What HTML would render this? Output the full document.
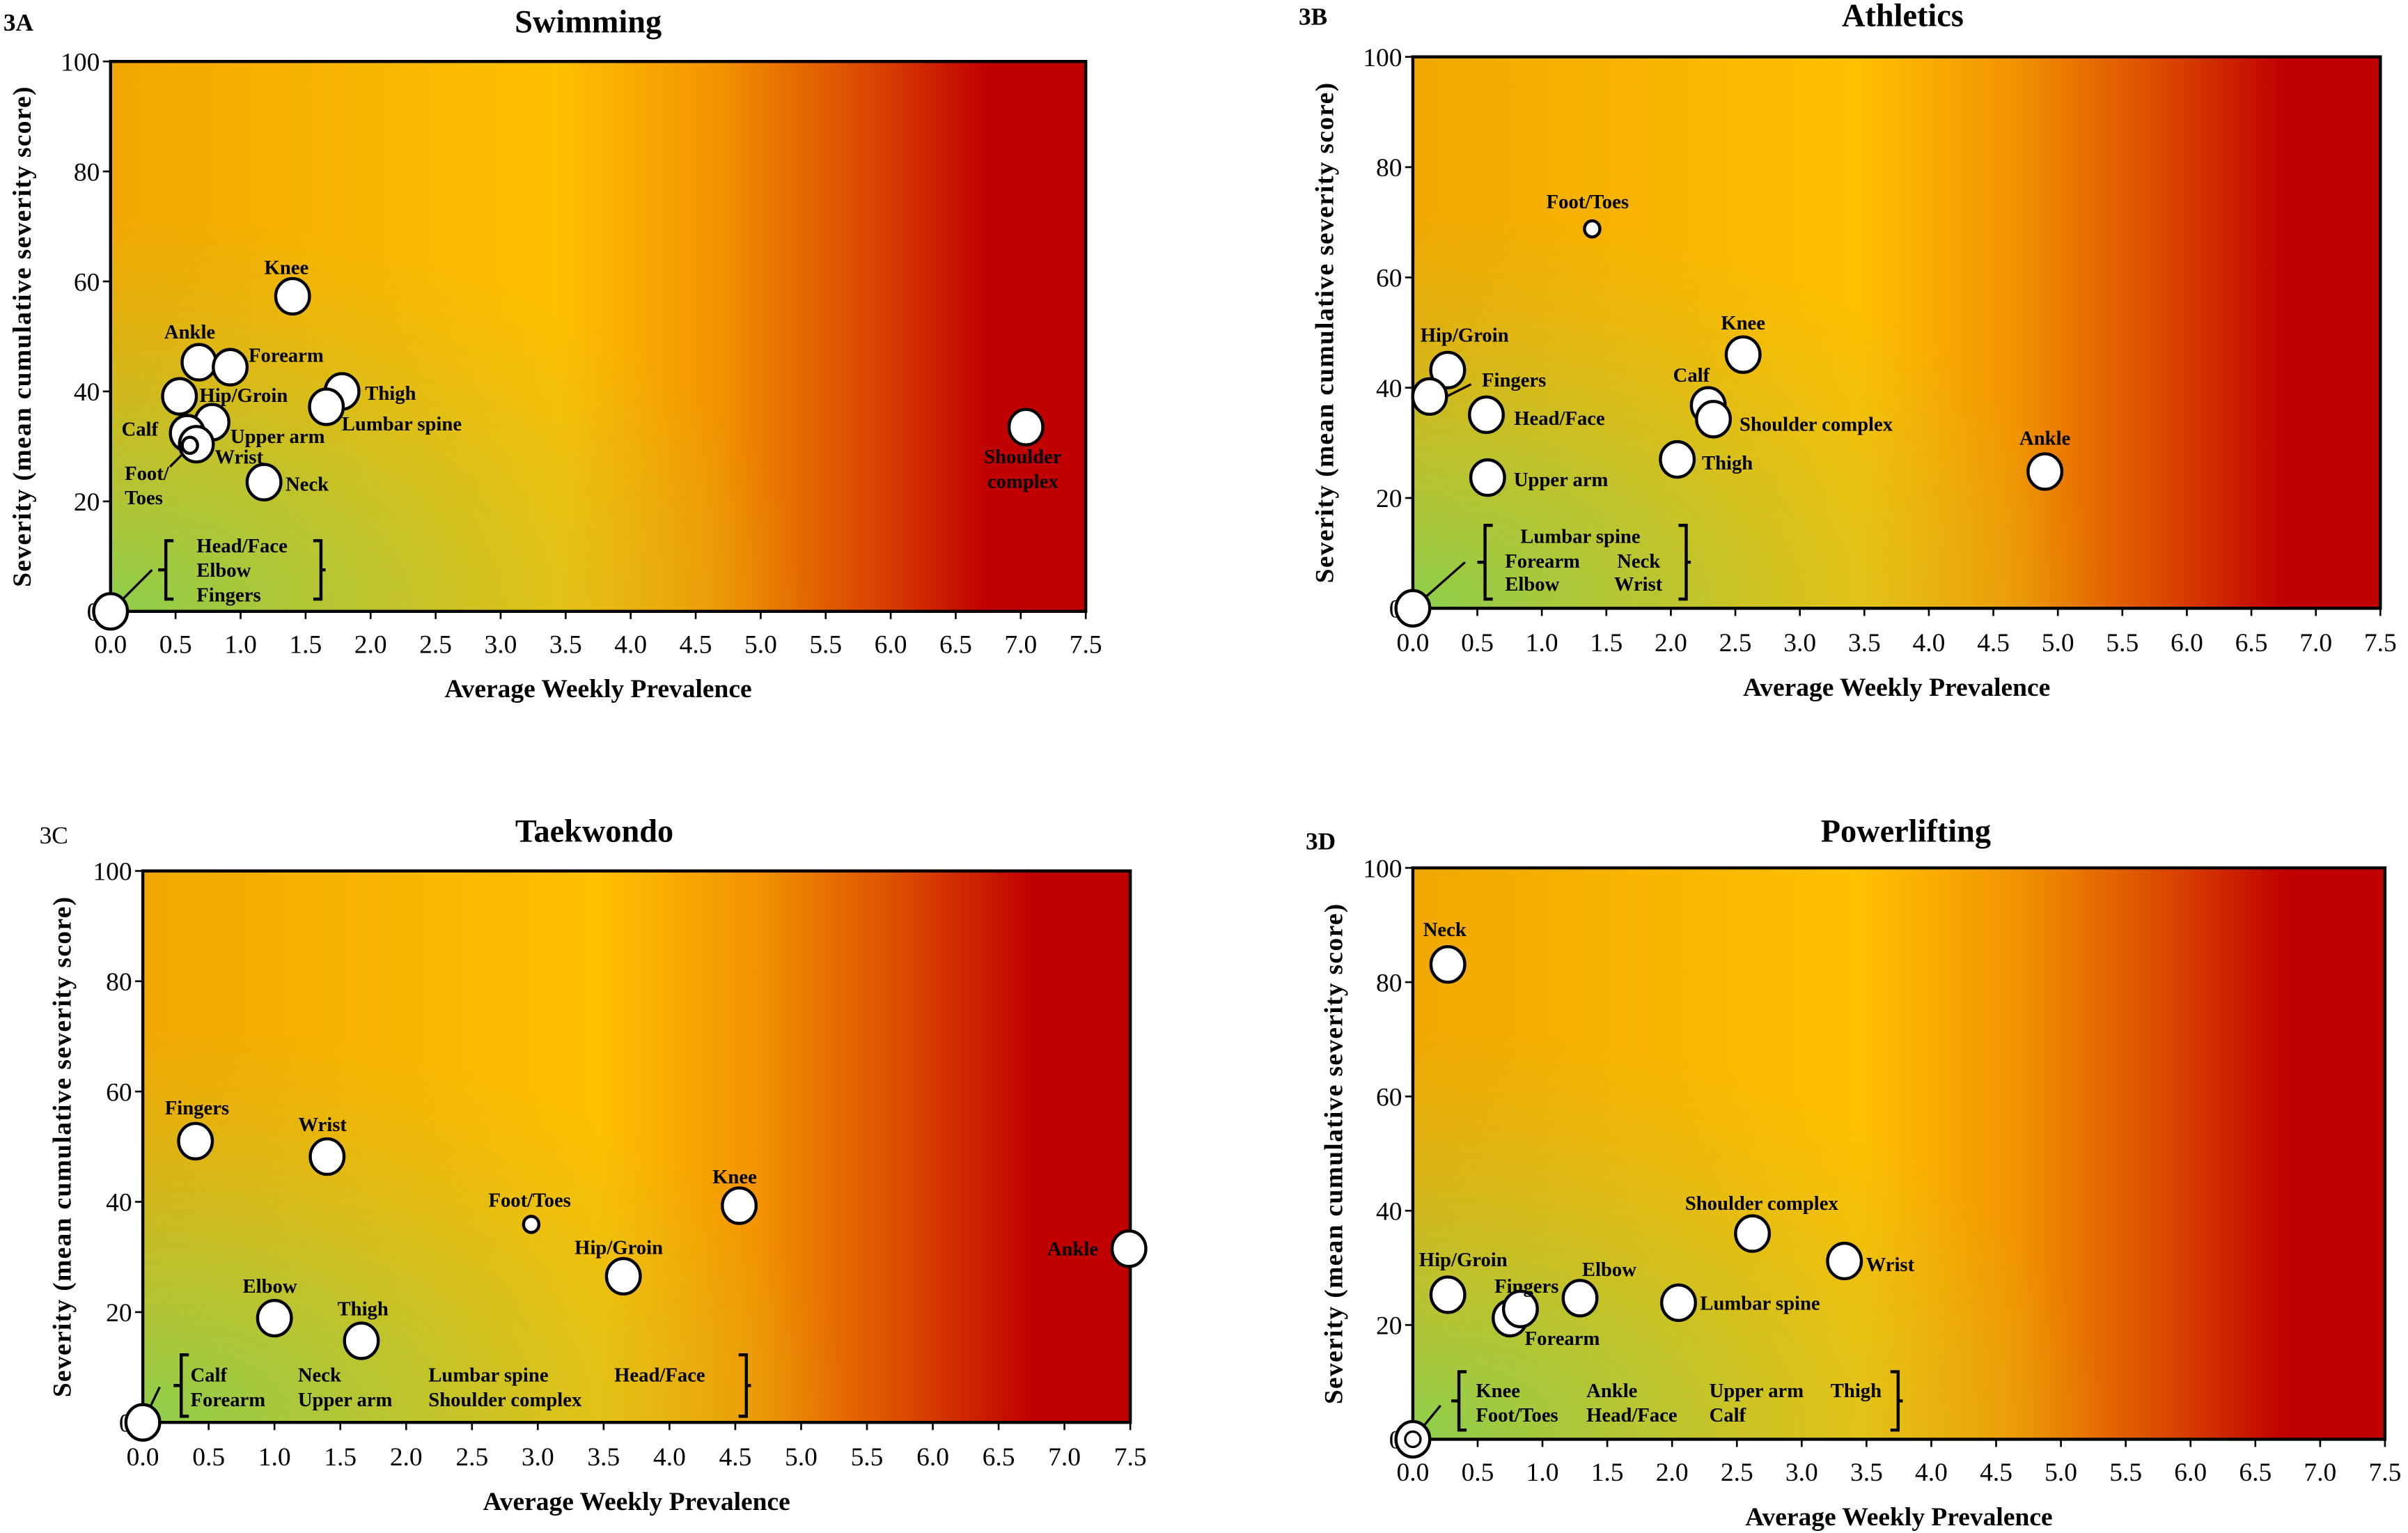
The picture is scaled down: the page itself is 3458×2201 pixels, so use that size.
<!DOCTYPE html>
<html><head><meta charset="utf-8"><style>
html,body{margin:0;padding:0;background:#fff}
svg{display:block}
svg text{font-family:"Liberation Serif","Times New Roman",serif;fill:#000}
</style></head><body>
<svg id="chart" width="3458" height="2201" viewBox="0 0 1568 998" font-family="Liberation Serif, serif" xmlns="http://www.w3.org/2000/svg">
<defs>
<linearGradient id="hgrad" x1="0" y1="0" x2="1" y2="0">
<stop offset="0" stop-color="#f0a800"/>
<stop offset="0.46" stop-color="#ffc000"/>
<stop offset="0.62" stop-color="#f29400"/>
<stop offset="0.78" stop-color="#da4600"/>
<stop offset="0.9" stop-color="#c00000"/>
<stop offset="1" stop-color="#c00000"/>
</linearGradient>
<radialGradient id="ggrad" cx="0" cy="1" r="0.72" fx="0" fy="1">
<stop offset="0" stop-color="#8ccf4d" stop-opacity="1"/>
<stop offset="0.4" stop-color="#a8cb3e" stop-opacity="0.7"/>
<stop offset="1" stop-color="#d0bf28" stop-opacity="0"/>
</radialGradient>
</defs>
</svg>
<script>
// ---------- DATA ----------
const swimNames = ["Zero","Knee","Ankle","Forearm","Hip/Groin","Thigh","Lumbar spine","Upper arm","Calf","Wrist","Foot/Toes","Neck","Shoulder complex"];
const swimX = [0,1.40,0.68,0.92,0.53,1.78,1.66,0.78,0.59,0.66,0.61,1.18,7.04];
const swimY = [0,57.3,45.3,44.4,39.1,40.0,37.2,34.4,32.4,30.4,30.2,23.5,33.5];
const swimSize = ["L","L","L","L","L","L","L","L","L","L","S","L","L"];

const athNames = ["Zero","Foot/Toes","Hip/Groin","Fingers","Head/Face","Upper arm","Knee","Calf","Shoulder complex","Thigh","Ankle"];
const athX = [0,1.39,0.27,0.13,0.57,0.58,2.56,2.29,2.33,2.05,4.90];
const athY = [0,68.8,43.2,38.4,35.1,23.7,46.0,36.8,34.3,27.0,24.8];
const athSize = ["L","S","L","L","L","L","L","L","L","L","L"];

const tkdNames = ["Zero","Fingers","Wrist","Elbow","Thigh","Foot/Toes","Hip/Groin","Knee","Ankle"];
const tkdX = [0,0.40,1.40,1.00,1.66,2.95,3.65,4.53,7.49];
const tkdY = [0,51.0,48.2,18.9,14.8,35.9,26.5,39.3,31.5];
const tkdSize = ["L","L","L","L","L","S","L","L","L"];

const plNames = ["Zero","Neck","Hip/Groin","Forearm","Fingers","Elbow","Lumbar spine","Shoulder complex","Wrist"];
const plX = [0,0.27,0.27,0.75,0.83,1.29,2.05,2.62,3.33];
const plY = [0,83.1,25.3,21.2,22.8,24.7,23.9,36.0,31.2];
const plSize = ["L","L","L","L","L","L","L","L","L"];

const xTickLabels = ["0.0","0.5","1.0","1.5","2.0","2.5","3.0","3.5","4.0","4.5","5.0","5.5","6.0","6.5","7.0","7.5"];
const yTickLabels = ["0","20","40","60","80","100"];

// ---------- LAYOUT ----------
const panels = [
 {key:"swimming", tag:"3A", title:"Swimming", L:72,R:707,T:40,B:398, tagPos:[12,14], titlePos:[383,14], xTitleY:448, yTitleX:14, xLabY:419,
  names:swimNames, xs:swimX, ys:swimY, sizes:swimSize,
  labels:[[1,"Knee",-4,-19,"middle"],[2,"Ankle",-6,-20,"middle"],[3,"Forearm",12,-8,"start"],[4,"Hip/Groin",13,-1,"start"],[5,"Thigh",15,1,"start"],
          [6,"Lumbar spine",10,11,"start"],[7,"Upper arm",12,9,"start"],[8,"Calf",-19,-3,"end"],[9,"Wrist",12,8,"start"],[10,"Foot/",-28,18,"middle"],[10,"Toes",-30,34,"middle"],
          [11,"Neck",14,1,"start"],[12,"Shoulder",-2,19,"middle"],[12,"complex",-2,35,"middle"]],
  leaders:[[10,-2,3,-13,14]],
  zeroLeader:[27,-27], bracket:{x1:108,x2:209,top:352,bot:390,
   items:[["Head/Face",128,355],["Elbow",128,371],["Fingers",128,387]]}},
 {key:"athletics", tag:"3B", title:"Athletics", L:920,R:1550,T:37,B:396, tagPos:[855,10], titlePos:[1239,10], xTitleY:447, yTitleX:862, xLabY:418,
  names:athNames, xs:athX, ys:athY, sizes:athSize,
  labels:[[1,"Foot/Toes",-3,-18,"middle"],[2,"Hip/Groin",11,-23,"middle"],[3,"Fingers",34,-11,"start"],[4,"Head/Face",18,2,"start"],[5,"Upper arm",17,1,"start"],
          [6,"Knee",0,-21,"middle"],[7,"Calf",-11,-20,"middle"],[8,"Shoulder complex",17,3,"start"],[9,"Thigh",16,2,"start"],[10,"Ankle",0,-22,"middle"]],
  leaders:[[3,5,3,27,-8]],
  zeroLeader:[34,-30], bracket:{x1:967,x2:1098,top:342,bot:390,
   items:[["Lumbar spine",990,349],["Forearm",980,365],["Neck",1053,365],["Elbow",980,380],["Wrist",1051,380]]}},
 {key:"taekwondo", tag:"3C", title:"Taekwondo", L:93,R:736,T:567,B:926, tagPos:[35,543], titlePos:[387,541], xTitleY:977, yTitleX:40, xLabY:948, tagNormal:true,
  names:tkdNames, xs:tkdX, ys:tkdY, sizes:tkdSize,
  labels:[[1,"Fingers",1,-22,"middle"],[2,"Wrist",-3,-21,"middle"],[3,"Elbow",-3,-21,"middle"],[4,"Thigh",1,-21,"middle"],[5,"Foot/Toes",-1,-16,"middle"],
          [6,"Hip/Groin",-3,-19,"middle"],[7,"Knee",-3,-19,"middle"],[8,"Ankle",-20,0,"end"]],
  leaders:[],
  zeroLeader:[11,-23], bracket:{x1:118,x2:486,top:882,bot:922,
   items:[["Calf",124,895],["Forearm",124,911],["Neck",194,895],["Upper arm",194,911],["Lumbar spine",279,895],["Shoulder complex",279,911],["Head/Face",400,895]]}},
 {key:"powerlifting", tag:"3D", title:"Powerlifting", L:920,R:1553,T:565,B:937, tagPos:[860,547], titlePos:[1241,541], xTitleY:987, yTitleX:868, xLabY:958,
  names:plNames, xs:plX, ys:plY, sizes:plSize, zeroInner:true,
  labels:[[1,"Neck",-2,-23,"middle"],[2,"Hip/Groin",10,-23,"middle"],[3,"Forearm",34,13,"middle"],[4,"Fingers",4,-15,"middle"],[5,"Elbow",19,-19,"middle"],
          [6,"Lumbar spine",14,0,"start"],[7,"Shoulder complex",6,-20,"middle"],[8,"Wrist",14,2,"start"]],
  leaders:[],
  zeroLeader:[18,-22], bracket:{x1:950,x2:1236,top:893,bot:931,
   items:[["Knee",961,905],["Foot/Toes",961,921],["Ankle",1033,905],["Head/Face",1033,921],["Upper arm",1113,905],["Calf",1113,921],["Thigh",1192,905]]}}
];

const NS = "http://www.w3.org/2000/svg";
const FF = '"Liberation Serif", "Times New Roman", serif';
const svg = document.getElementById("chart");
function mk(tag, attrs, parent){const e=document.createElementNS(NS,tag);for(const k in attrs)e.setAttribute(k,attrs[k]);if(tag==="text"){e.setAttribute("font-family",FF);e.style.fontFamily=FF;}(parent||svg).appendChild(e);return e;}

panels.forEach(p=>{
  const g = mk("g",{});
  
  
  const xs = v => p.L + (v/7.5)*(p.R-p.L);
  const ys = v => p.B - (v/100)*(p.B-p.T);

  const bg = mk("rect",{x:p.L,y:p.T,width:p.R-p.L,height:p.B-p.T,fill:"url(#hgrad)"},g);
  
  
  mk("rect",{x:p.L,y:p.T,width:p.R-p.L,height:p.B-p.T,fill:"url(#ggrad)"},g);
  const frame = mk("rect",{x:p.L,y:p.T,width:p.R-p.L,height:p.B-p.T,fill:"none",stroke:"#000","stroke-width":2},g);
  
  

  xTickLabels.forEach(t=>{
    const v=parseFloat(t), x=xs(v);
    mk("line",{x1:x,x2:x,y1:p.B,y2:p.B+5,stroke:"#000","stroke-width":1.2},g);
    const tx=mk("text",{x:x,y:p.xLabY+6,"text-anchor":"middle","font-size":17},g);
    tx.textContent=t;
    
    
  });
  yTickLabels.forEach(t=>{
    const v=parseFloat(t), y=ys(v);
    mk("line",{x1:p.L-5,x2:p.L,y1:y,y2:y,stroke:"#000","stroke-width":1.2},g);
    const ty=mk("text",{x:p.L-7,y:y+6,"text-anchor":"end","font-size":17},g);
    ty.textContent=t;
    
    
  });

  const tag=mk("text",{x:p.tagPos[0],y:p.tagPos[1]+6,"text-anchor":"middle","font-size":16,"font-weight":p.tagNormal?"normal":"bold"},g);
  tag.textContent=p.tag;
  
  
  const tt=mk("text",{x:p.titlePos[0],y:p.titlePos[1]+7,"text-anchor":"middle","font-size":21,"font-weight":"bold"},g);
  tt.textContent=p.title;
  
  
  const xt=mk("text",{x:(p.L+p.R)/2,y:p.xTitleY+6,"text-anchor":"middle","font-size":17,"font-weight":"bold"},g);
  xt.textContent="Average Weekly Prevalence";
  
  
  const cy=(p.T+p.B)/2;
  const yt=mk("text",{x:0,y:0,"text-anchor":"middle","font-size":17,"font-weight":"bold","letter-spacing":"0.6",transform:`translate(${p.yTitleX+6},${cy}) rotate(-90)`},g);
  yt.textContent="Severity (mean cumulative severity score)";
  
  

  const b=p.bracket, mid=(b.top+b.bot)/2;
  const zx=xs(p.xs[0]), zy=ys(p.ys[0]);
  mk("line",{x1:zx,y1:zy,x2:zx+p.zeroLeader[0],y2:zy+p.zeroLeader[1],stroke:"#000","stroke-width":1.5},g);
  const br=mk("path",{d:`M${b.x1+5},${b.top} H${b.x1} V${b.bot} H${b.x1+5} M${b.x1-5},${mid} H${b.x1} M${b.x2-5},${b.top} H${b.x2} V${b.bot} H${b.x2-5} M${b.x2},${mid} H${b.x2+3}`,fill:"none",stroke:"#000","stroke-width":2},g);
  
  
  b.items.forEach(it=>{
    const t=mk("text",{x:it[1],y:it[2]+4.5,"font-size":13,"font-weight":"bold"},g);
    t.textContent=it[0];
    
    
  });

  p.leaders.forEach(l=>{
    const x=xs(p.xs[l[0]]), y=ys(p.ys[l[0]]);
    mk("line",{x1:x+l[1],y1:y+l[2],x2:x+l[3],y2:y+l[4],stroke:"#000","stroke-width":1.5},g);
  });

  p.names.forEach((n,i)=>{
    const r = p.sizes[i]==="S"?5:11;
    const c=mk("ellipse",{cx:xs(p.xs[i]),cy:ys(p.ys[i]),rx:r,ry:r*1.05,fill:"#fff",stroke:"#000","stroke-width":2},g);
    
    
  });
  if(p.zeroInner){
    mk("circle",{cx:xs(p.xs[0]),cy:ys(p.ys[0]),r:5,fill:"#fff",stroke:"#000","stroke-width":1.5},g);
  }
  p.labels.forEach(l=>{
    const x=xs(p.xs[l[0]]), y=ys(p.ys[l[0]]);
    const t=mk("text",{x:x+l[2],y:y+l[3]+4.5,"text-anchor":l[4],"font-size":13,"font-weight":"bold"},g);
    t.textContent=l[1];
    
    
  });
});
</script>
</body></html>
